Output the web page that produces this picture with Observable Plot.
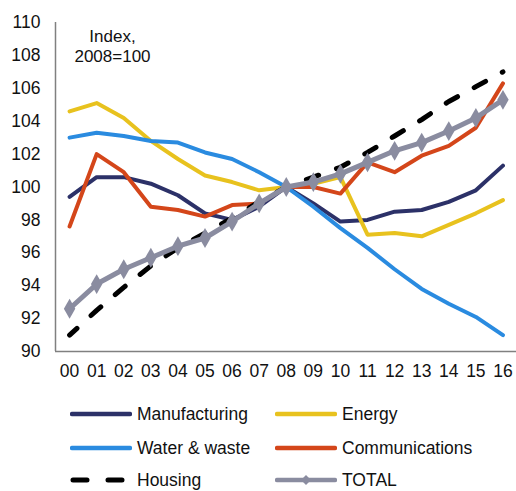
<!DOCTYPE html>
<html>
<head>
<meta charset="utf-8">
<script src="https://cdn.jsdelivr.net/npm/d3@7"></script>
<script src="https://cdn.jsdelivr.net/npm/@observablehq/plot@0.6"></script>
<style>
  body { margin: 0; background: #fff; font-family: "Liberation Sans", Arial, sans-serif; }
  #wrap { position: relative; width: 516px; }
  #legend { position: relative; width: 516px; height: 101px; font-size: 17.5px; color: #111; }
  .item { position: absolute; display: flex; align-items: center; height: 24px; }
  .item svg { margin-right: 5px; }
</style>
</head>
<body>
<div id="wrap">
  <div id="chart"></div>
  <div id="legend"></div>
</div>
<script>
const yearLabels = ["00","01","02","03","04","05","06","07","08","09","10","11","12","13","14","15","16"];
const seriesNames = ["Manufacturing","Energy","Water & waste","Communications","Housing","TOTAL"];
const seriesColors = ["#2c3168","#e8c21e","#2a8be0","#d4461a","#000000","#8a8ca0"];
const manufacturing = [99.4,100.6,100.6,100.2,99.5,98.4,98.0,98.8,100,99.0,97.9,98.0,98.5,98.6,99.1,99.8,101.3];
const energy = [104.6,105.1,104.2,102.8,101.7,100.7,100.3,99.8,100,100.2,100.6,97.1,97.2,97.0,97.7,98.4,99.2];
const water = [103.0,103.3,103.1,102.8,102.7,102.1,101.7,100.9,100,98.8,97.5,96.3,95.0,93.8,92.9,92.1,91.0];
const communications = [97.6,102.0,100.9,98.8,98.6,98.2,98.9,99.0,100,100.0,99.6,101.5,100.9,101.9,102.5,103.6,106.3];
const housing = [91.0,92.5,93.9,95.2,96.3,97.2,98.1,99.1,100,100.6,101.2,102.1,103.1,104.1,105.2,106.1,107.0];
const total = [92.6,94.1,95.0,95.7,96.4,96.9,97.9,99.0,100,100.3,100.8,101.5,102.2,102.7,103.4,104.2,105.3];
const yTicks = [90,92,94,96,98,100,102,104,106,108,110];
const annotation = ["Index,\n2008=100"];

const allSeries = [manufacturing, energy, water, communications, housing, total];
const rows = [];
allSeries.forEach((vals, s) => vals.forEach((v, i) => rows.push({series: seriesNames[s], x: i, y: v})));
const colorOf = Object.fromEntries(seriesNames.map((n, i) => [n, seriesColors[i]]));
const sel = n => rows.filter(r => r.series === n);

const chart = Plot.plot({
  width: 516,
  height: 390,
  marginLeft: 55,
  marginRight: 0,
  marginTop: 22,
  marginBottom: 39,
  style: {fontFamily: "'Liberation Sans', Arial, sans-serif", fontSize: "17.5px", color: "#111", background: "#fff"},
  x: {domain: [-0.52, 16.5], axis: null},
  y: {domain: [90, 110], axis: null},
  marks: [
    Plot.axisY(yTicks, {tickSize: 0, tickPadding: 15, fontSize: 17.5, fill: "#111", label: null}),
    Plot.axisX(d3.range(yearLabels.length), {tickSize: 0, tickPadding: 13, fontSize: 17.5, fill: "#111", label: null, tickFormat: i => yearLabels[i]}),
    Plot.ruleX([-0.52], {y1: 90, y2: 110, stroke: "#808080", strokeWidth: 1.5}),
    Plot.ruleY([90], {x1: -0.52, x2: 16.5, stroke: "#808080", strokeWidth: 1.5}),
    Plot.text(annotation, {frameAnchor: "top-left", dx: 57, dy: 6, textAnchor: "middle", lineAnchor: "top", lineHeight: 1.15, fontSize: 17, fill: "#111"}),
    ...["Manufacturing","Energy","Water & waste","Communications"].map(n =>
      Plot.line(sel(n), {x: "x", y: "y", stroke: colorOf[n], strokeWidth: 4, strokeLinejoin: "round", strokeLinecap: "round"})),
    Plot.line(sel("Housing"), {x: "x", y: "y", stroke: colorOf["Housing"], strokeWidth: 5, strokeDasharray: "13,19", strokeDashoffset: 3, strokeLinecap: "round"}),
    Plot.line(sel("TOTAL"), {x: "x", y: "y", stroke: colorOf["TOTAL"], strokeWidth: 5, strokeLinejoin: "round"}),
    Plot.dot(sel("TOTAL"), {x: "x", y: "y", symbol: "diamond", r: 6, fill: colorOf["TOTAL"], stroke: null})
  ]
});
document.getElementById("chart").appendChild(chart);

// Legend
const legend = document.getElementById("legend");
const legendPos = [
  [70, 12], [275, 12],
  [70, 46], [275, 46],
  [70, 78], [275, 78]
];
seriesNames.forEach((name, i) => {
  const div = document.createElement("div");
  div.className = "item";
  div.style.left = legendPos[i][0] + "px";
  div.style.top = legendPos[i][1] + "px";
  const c = seriesColors[i];
  let sw;
  if (name === "Housing") {
    sw = `<svg width="62" height="12"><line x1="3" y1="6" x2="59" y2="6" stroke="${c}" stroke-width="5" stroke-linecap="round" stroke-dasharray="14,21"/></svg>`;
  } else if (name === "TOTAL") {
    sw = `<svg width="62" height="12"><line x1="2" y1="6" x2="60" y2="6" stroke="${c}" stroke-width="4.5" stroke-linecap="round"/><path d="M31,1 L36,6 L31,11 L26,6 Z" fill="${c}"/></svg>`;
  } else {
    sw = `<svg width="62" height="12"><line x1="2" y1="6" x2="60" y2="6" stroke="${c}" stroke-width="4.5" stroke-linecap="round"/></svg>`;
  }
  div.innerHTML = sw + `<span>${name}</span>`;
  legend.appendChild(div);
});
</script>
</body>
</html>
